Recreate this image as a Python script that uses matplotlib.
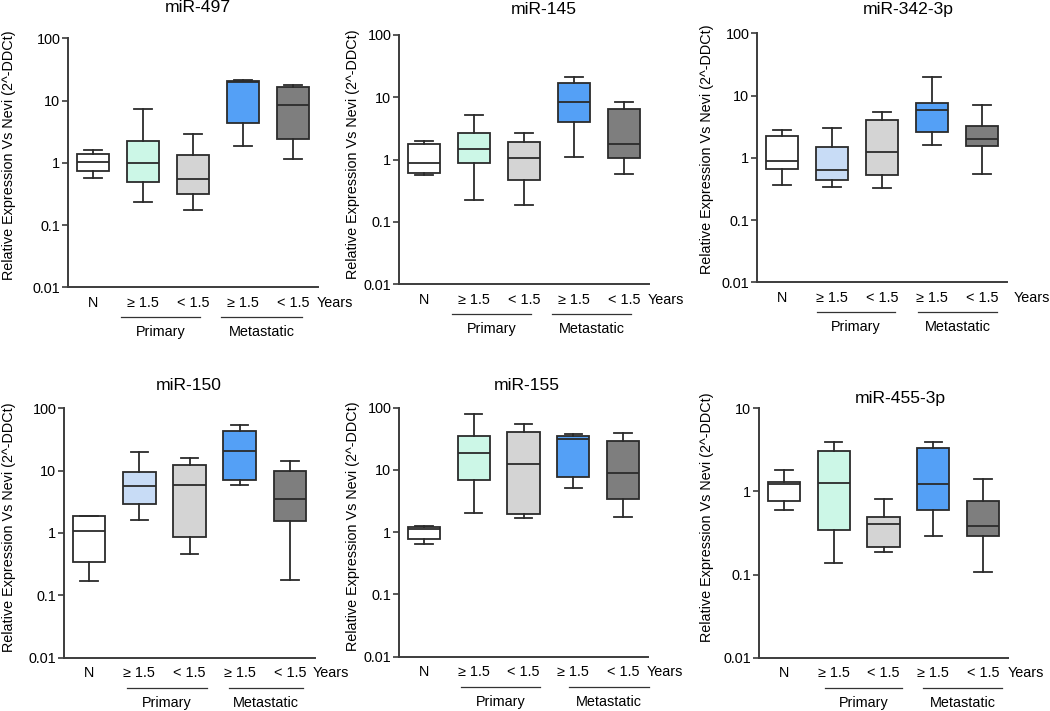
import matplotlib
matplotlib.use("Agg")
import matplotlib.pyplot as plt
from matplotlib.ticker import FixedLocator, NullLocator, FixedFormatter

plt.rcParams['font.family'] = ['Liberation Sans', 'DejaVu Sans']

# ---------------- data ----------------
titles = ["miR-497", "miR-145", "miR-342-3p", "miR-150", "miR-155", "miR-455-3p"]
xlabels = ["N", "\u2265 1.5", "< 1.5", "\u2265 1.5", "< 1.5"]
group_names = ["Primary", "Metastatic"]

# per panel: whisker low, Q1, median, Q3, whisker high (5 groups each)
mir497_lo = [0.57, 0.237, 0.172, 1.83, 1.15]
mir497_q1 = [0.75, 0.49, 0.318, 4.28, 2.43]
mir497_med = [1.04, 0.99, 0.547, 20.2, 8.5]
mir497_q3 = [1.38, 2.28, 1.33, 20.6, 16.6]
mir497_hi = [1.6, 7.4, 2.85, 21.5, 17.6]

mir145_lo = [0.575, 0.223, 0.19, 1.12, 0.58]
mir145_q1 = [0.61, 0.88, 0.47, 4.07, 1.05]
mir145_med = [0.87, 1.5, 1.08, 8.3, 1.8]
mir145_q3 = [1.81, 2.64, 1.9, 17.0, 6.5]
mir145_hi = [2.0, 5.2, 2.71, 20.9, 8.4]

mir342_lo = [0.37, 0.343, 0.33, 1.62, 0.553]
mir342_q1 = [0.66, 0.444, 0.527, 2.64, 1.56]
mir342_med = [0.895, 0.64, 1.22, 5.96, 2.04]
mir342_q3 = [2.2, 1.47, 4.07, 7.7, 3.26]
mir342_hi = [2.75, 2.96, 5.5, 19.7, 7.0]

mir150_lo = [0.17, 1.6, 0.455, 5.9, 0.176]
mir150_q1 = [0.343, 2.88, 0.87, 7.0, 1.54]
mir150_med = [1.09, 5.7, 5.8, 20.9, 3.47]
mir150_q3 = [1.85, 9.6, 12.3, 43.8, 9.9]
mir150_hi = [1.9, 19.9, 15.8, 54.0, 14.3]

mir155_lo = [0.65, 2.0, 1.72, 5.1, 1.78]
mir155_q1 = [0.79, 7.0, 1.97, 7.6, 3.39]
mir155_med = [1.13, 18.7, 12.6, 31.4, 8.8]
mir155_q3 = [1.23, 34.7, 40.7, 35.1, 29.5]
mir155_hi = [1.24, 79.0, 54.0, 37.3, 38.7]

mir455_lo = [0.596, 0.136, 0.189, 0.295, 0.106]
mir455_q1 = [0.76, 0.348, 0.215, 0.596, 0.29]
mir455_med = [1.22, 1.28, 0.404, 1.22, 0.389]
mir455_q3 = [1.29, 3.09, 0.486, 3.33, 0.765]
mir455_hi = [1.79, 3.9, 0.81, 3.9, 1.41]

panel_stats = [
    (mir497_lo, mir497_q1, mir497_med, mir497_q3, mir497_hi),
    (mir145_lo, mir145_q1, mir145_med, mir145_q3, mir145_hi),
    (mir342_lo, mir342_q1, mir342_med, mir342_q3, mir342_hi),
    (mir150_lo, mir150_q1, mir150_med, mir150_q3, mir150_hi),
    (mir155_lo, mir155_q1, mir155_med, mir155_q3, mir155_hi),
    (mir455_lo, mir455_q1, mir455_med, mir455_q3, mir455_hi),
]

yticks_main = [0.01, 0.1, 1, 10, 100]
yticklabels_main = ["0.01", "0.1", "1", "10", "100"]
yticks_455 = [0.01, 0.1, 1, 10]
yticklabels_455 = ["0.01", "0.1", "1", "10"]

# ---------------- styling / layout ----------------
WHITE = "#FFFFFF"
MINT = "#CCF7E7"
LBLUE = "#C8DCF6"
LGREY = "#D4D4D4"
BLUE = "#54A0F6"
DGREY = "#7E7E7E"
panel_colors = [
    [WHITE, MINT, LGREY, BLUE, DGREY],
    [WHITE, MINT, LGREY, BLUE, DGREY],
    [WHITE, LBLUE, LGREY, BLUE, DGREY],
    [WHITE, LBLUE, LGREY, BLUE, DGREY],
    [WHITE, MINT, LGREY, BLUE, DGREY],
    [WHITE, MINT, LGREY, BLUE, DGREY],
]

W, H = 1050, 711
# left, top, right, bottom in pixels
rects = [
    (68, 38.3, 318, 287.3),
    (399, 35.0, 649, 284.3),
    (757, 33.3, 1007, 282.3),
    (64, 408.3, 315, 657.7),
    (399, 407.7, 648, 656.7),
    (759, 408.3, 1008, 657.7),
]
title_pos = [(0.52, 1.122), (0.58, 1.104), (0.604, 1.094),
             (0.498, 1.093), (0.514, 1.091), (0.566, 1.041)]
ylabel_pos = [(-0.236, 0.53), (-0.184, 0.52), (-0.20, 0.535),
              (-0.219, 0.525), (-0.184, 0.524), (-0.209, 0.565)]
years_x = [4.48, 4.48, 4.64, 4.46, 4.48, 4.50]
group_lines = [
    [(0.56, 2.14), (2.56, 4.18)],
    [(0.56, 2.14), (2.56, 4.14)],
    [(0.70, 2.26), (2.72, 4.30)],
    [(0.76, 2.34), (2.78, 4.26)],
    [(0.74, 2.34), (2.92, 4.52)],
    [(0.82, 2.38), (2.80, 4.38)],
]

EDGE = "#2b2b2b"
SPINE = "#3c3c3c"
FS = 10.4

fig = plt.figure(figsize=(W / 100, H / 100), dpi=100)
fig.patch.set_facecolor("white")

positions = list(range(len(xlabels)))

for i in range(6):
    l, t, r, b = rects[i]
    ax = fig.add_axes([l / W, 1 - b / H, (r - l) / W, (b - t) / H])
    lo, q1, med, q3, hi = panel_stats[i]
    stats = []
    for k in range(len(lo)):
        stats.append(dict(whislo=lo[k], q1=q1[k], med=med[k], q3=q3[k],
                          whishi=hi[k], fliers=[]))
    bp = ax.bxp(stats, positions=positions, widths=0.65, capwidths=0.35,
                patch_artist=True, showfliers=False,
                boxprops=dict(edgecolor=EDGE, linewidth=1.3),
                whiskerprops=dict(color=EDGE, linewidth=1.3),
                capprops=dict(color=EDGE, linewidth=1.3),
                medianprops=dict(color=EDGE, linewidth=1.3))
    for patch, c in zip(bp['boxes'], panel_colors[i]):
        patch.set_facecolor(c)

    ax.set_yscale("log")
    if i == 5:
        ax.set_ylim(0.01, 10)
        ax.yaxis.set_major_locator(FixedLocator(yticks_455))
        ax.yaxis.set_major_formatter(FixedFormatter(yticklabels_455))
    else:
        ax.set_ylim(0.01, 100)
        ax.yaxis.set_major_locator(FixedLocator(yticks_main))
        ax.yaxis.set_major_formatter(FixedFormatter(yticklabels_main))
    ax.yaxis.set_minor_locator(NullLocator())
    ax.set_xlim(-0.5, 4.5)

    for s in ("top", "right"):
        ax.spines[s].set_visible(False)
    for s in ("left", "bottom"):
        ax.spines[s].set_color(SPINE)
        ax.spines[s].set_linewidth(1.4)
    ax.tick_params(axis="y", direction="out", length=4, width=1.2,
                   color=SPINE, labelsize=FS, pad=1.5)
    ax.set_xticks([])

    # x category labels
    for k, lab in enumerate(xlabels):
        ax.text(positions[k], -0.062, lab, transform=ax.get_xaxis_transform(),
                ha="center", va="center", fontsize=FS)
    ax.text(years_x[i], -0.062, "Years", transform=ax.get_xaxis_transform(),
            ha="left", va="center", fontsize=FS)
    for (x0, x1), gname in zip(group_lines[i], group_names):
        ax.plot([x0, x1], [-0.12, -0.12], transform=ax.get_xaxis_transform(),
                color="#333333", linewidth=0.9, clip_on=False)
        ax.text((x0 + x1) / 2, -0.181, gname, transform=ax.get_xaxis_transform(),
                ha="center", va="center", fontsize=FS)

    ax.text(title_pos[i][0], title_pos[i][1], titles[i], transform=ax.transAxes,
            ha="center", va="center", fontsize=12.6)
    ax.set_ylabel("Relative Expression Vs Nevi (2^-DDCt)", fontsize=FS, va="center")
    ax.yaxis.set_label_coords(*ylabel_pos[i])

fig.savefig("out.png", dpi=100, facecolor="white")
